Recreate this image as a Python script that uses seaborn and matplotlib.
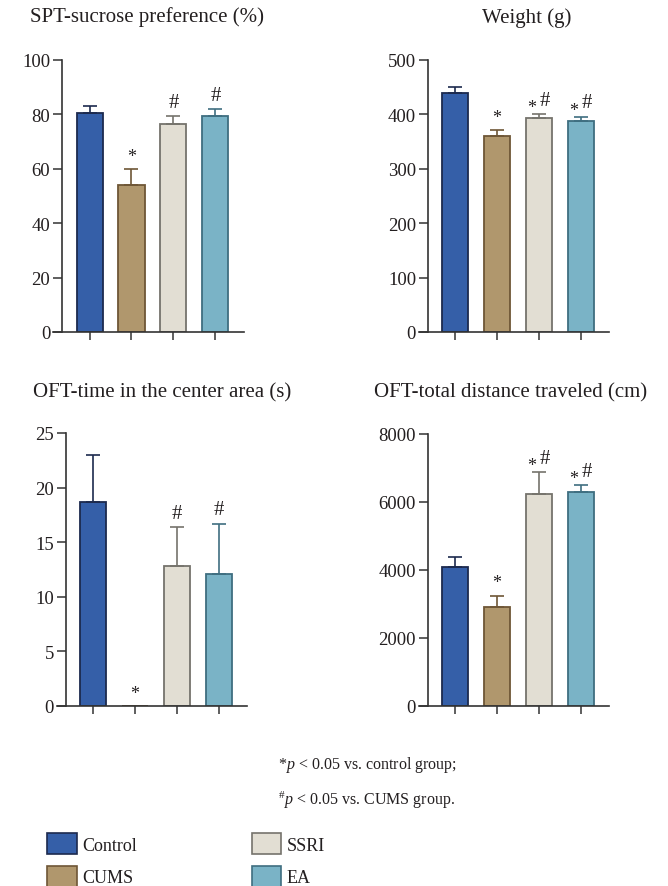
import numpy as np
import pandas as pd
import seaborn as sns
import matplotlib
import matplotlib.pyplot as plt
from matplotlib.patches import Patch

matplotlib.use('Agg')

groups = ['Control', 'CUMS', 'SSRI', 'EA']
fills = ['#355fa8', '#b0976d', '#e2ded3', '#7ab3c6']
edges = ['#1c2a4e', '#6e5636', '#75736c', '#3f6e80']

titles = ['SPT-sucrose preference (%)', 'Weight (g)',
          'OFT-time in the center area (s)', 'OFT-total distance traveled (cm)']

spt_mean = [80.5, 54.0, 76.5, 79.5]
spt_err = [2.5, 6.0, 3.0, 2.5]
spt_marks = ['', '*', '#', '#']

weight_mean = [440, 361, 393, 388]
weight_err = [11, 10, 7, 8]
weight_marks = ['', '*', '*#', '*#']

center_mean = [18.7, 0.0, 12.8, 12.1]
center_err = [4.3, 0.0, 3.6, 4.6]
center_marks = ['', '*', '#', '#']

dist_mean = [4100, 2900, 6250, 6280]
dist_err = [280, 350, 630, 220]
dist_marks = ['', '*', '*#', '*#']

yticks = [
    [0, 20, 40, 60, 80, 100],
    [0, 100, 200, 300, 400, 500],
    [0, 5, 10, 15, 20, 25],
    [0, 2000, 4000, 6000, 8000],
]

sns.set_style('ticks')
plt.rcParams['font.family'] = ['Liberation Serif', 'DejaVu Serif']
plt.rcParams['mathtext.fontset'] = 'custom'
plt.rcParams['mathtext.rm'] = 'Liberation Serif'
plt.rcParams['mathtext.it'] = 'Liberation Serif:italic'
plt.rcParams['text.color'] = '#231f20'

W, H = 668, 887
fig = plt.figure(figsize=(W / 100, H / 100), dpi=100)


def px_axes(x0, x1, y_top, y_bot):
    return fig.add_axes([x0 / W, (H - y_bot) / H, (x1 - x0) / W, (y_bot - y_top) / H])


axes = [
    px_axes(53, 244, 61, 333),
    px_axes(419, 609, 61, 333),
    px_axes(57, 247, 434, 707),
    px_axes(419, 609, 435, 707),
]

data = [
    (spt_mean, spt_err, spt_marks),
    (weight_mean, weight_err, weight_marks),
    (center_mean, center_err, center_marks),
    (dist_mean, dist_err, dist_marks),
]

for ax, (mean, err, marks), ticks in zip(axes, data, yticks):
    df = pd.DataFrame({'group': groups, 'value': mean})
    sns.barplot(data=df, x='group', y='value', hue='group', palette=fills,
                saturation=1, width=0.62, legend=False, ax=ax, linewidth=1.3)
    for patch, ec in zip(ax.patches, edges):
        patch.set_edgecolor(ec)
    for i in range(4):
        if err[i] > 0:
            ax.errorbar(i, mean[i], yerr=[[0], [err[i]]], fmt='none',
                        ecolor=edges[i], elinewidth=1.2, capsize=4.7,
                        capthick=1.2, zorder=1)
        top = mean[i] + err[i]
        m = marks[i]
        if m == '*#':
            ax.annotate('*', (i, top), xytext=(-5, -1.5), textcoords='offset points',
                        ha='center', va='bottom', fontsize=13)
            ax.annotate('#', (i, top), xytext=(4.5, 3), textcoords='offset points',
                        ha='center', va='bottom', fontsize=15)
        elif m == '#':
            ax.annotate(m, (i, top), xytext=(0, 3), textcoords='offset points',
                        ha='center', va='bottom', fontsize=15)
        elif m:
            ax.annotate(m, (i, top), xytext=(0, 3), textcoords='offset points',
                        ha='center', va='bottom', fontsize=13)

    ax.set_xlim(-0.87, 3.68)
    ax.set_ylim(ticks[0], ticks[-1])
    ax.set_yticks(ticks)
    ax.set_xticks(range(4), labels=[])
    ax.set_xlabel('')
    ax.set_ylabel('')
    sns.despine(ax=ax)
    ax.spines['left'].set_position(('axes', 0.047))
    for s in ['left', 'bottom']:
        ax.spines[s].set_color('#333333')
        ax.spines[s].set_linewidth(1.2)
    ax.tick_params(axis='y', length=6.5, width=1.1, color='#333333',
                   labelsize=13.5, labelcolor='#231f20', pad=2)
    ax.tick_params(axis='x', length=6, width=1.1, color='#333333')

title_pos = [(147, 22), (527, 23), (162, 397), (511, 397)]
for t, (x, y) in zip(titles, title_pos):
    fig.text(x / W, (H - y) / H, t, ha='center', va='baseline', fontsize=15)

fig.text(278 / W, (H - 769) / H, r'*$p$ < 0.05 vs. control group;',
         ha='left', va='baseline', fontsize=11.5)
fig.text(278 / W, (H - 805) / H, r'$^{\#}p$ < 0.05 vs. CUMS group.',
         ha='left', va='baseline', fontsize=11.5)

handles = [Patch(facecolor=f, edgecolor=e, linewidth=1.2, label=g)
           for g, f, e in zip(groups, fills, edges)]
fig.legend(handles=handles, loc='upper left', bbox_to_anchor=(47 / W, (H - 834) / H),
           ncol=2, frameon=False, fontsize=13, borderpad=0, borderaxespad=0,
           handlelength=1.65, handleheight=1.45, handletextpad=0.3,
           labelspacing=0.62, columnspacing=6.35)

fig.savefig('out.png', dpi=100)
